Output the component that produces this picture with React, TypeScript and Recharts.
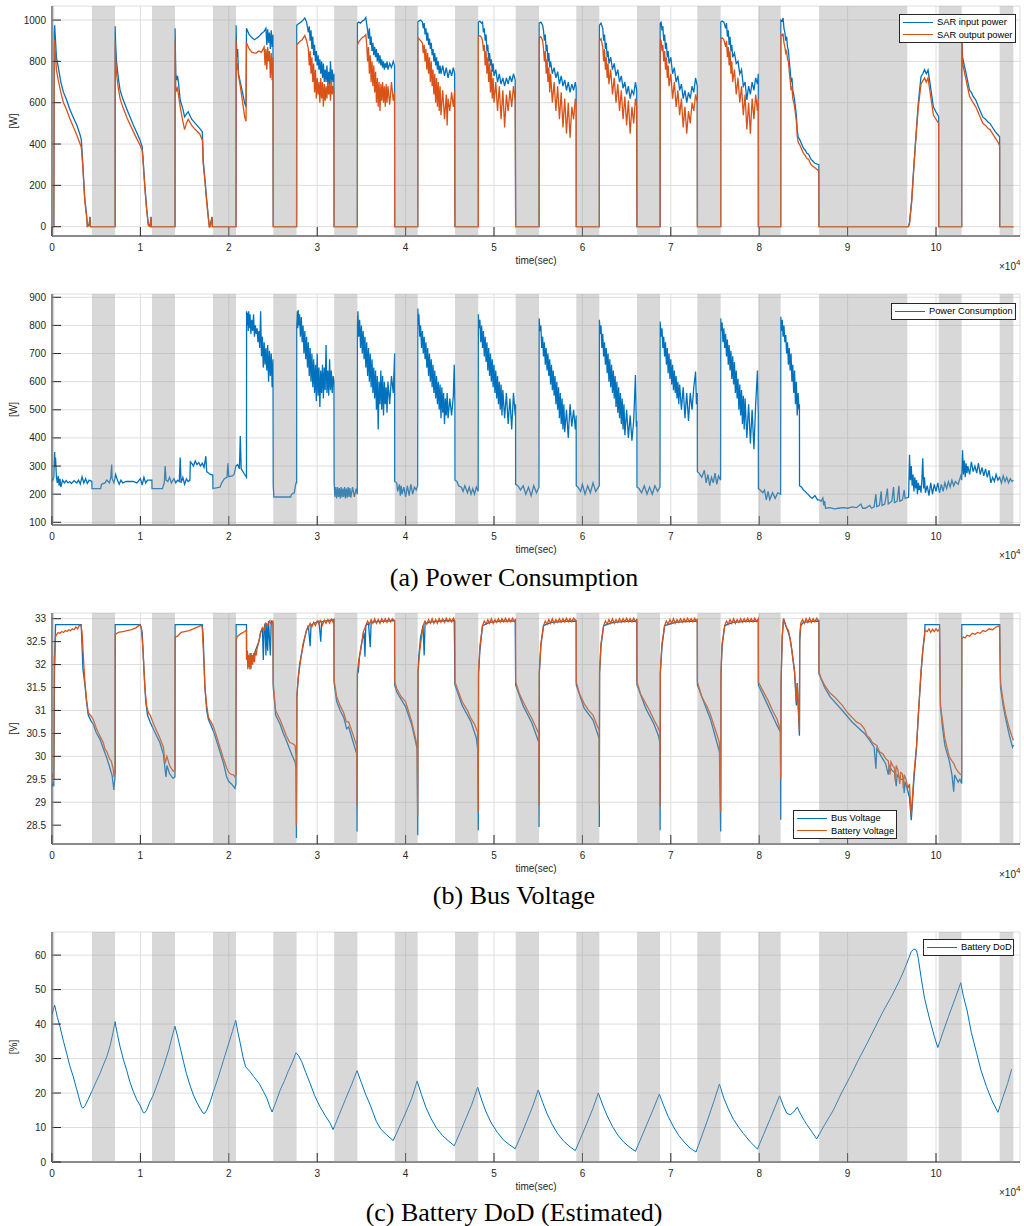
import React from 'react';
import { LineChart, Line, XAxis, YAxis, CartesianGrid, ReferenceArea, Label } from 'recharts';

type Pt = [number, number];

const BLUE = '#0072BD';
const ORANGE = '#D95319';
const SANS = '"Liberation Sans", Arial, sans-serif';

// eclipse windows (x in 1e4 s)
const eclipses: Pt[] = [
  [0, 0.025], [0.452, 0.713], [1.131, 1.391], [1.821, 2.081], [2.503, 2.767], [3.192, 3.454],
  [3.877, 4.137], [4.559, 4.822], [5.245, 5.509], [5.931, 6.191], [6.618, 6.878], [7.30, 7.564],
  [7.99, 8.243], [8.677, 9.675], [10.03, 10.29], [10.72, 10.875],
];

const xTicks = [0, 1, 2, 3, 4, 5, 6, 7, 8, 9, 10];

// (a) SAR power [W]
const sarIn: Pt[] = [
  [0, 0], [0.02, 0], [0.025, 940], [0.03, 975], [0.04, 900], [0.05, 820], [0.07, 775], [0.1, 700], [0.13, 650], [0.166, 613], [0.2, 570], [0.24, 530], [0.28, 492], [0.31, 455], [0.33, 425], [0.335, 400], [0.35, 290], [0.37, 140], [0.39, 60], [0.40, 5], [0.42, 10], [0.43, 48], [0.435, 0], [0.713, 0],
  [0.714, 970], [0.72, 880], [0.73, 800], [0.75, 720], [0.77, 661], [0.8, 620], [0.85, 565], [0.92, 492], [0.96, 455], [0.995, 420], [1.02, 387], [1.03, 330], [1.05, 200], [1.07, 90], [1.09, 10], [1.11, 5], [1.12, 48], [1.125, 0], [1.391, 0],
  [1.392, 960], [1.40, 740], [1.41, 709], [1.42, 730], [1.43, 700], [1.45, 613], [1.48, 570], [1.50, 532], [1.52, 545], [1.54, 556], [1.58, 520], [1.62, 500], [1.67, 476], [1.70, 460], [1.705, 410], [1.71, 322], [1.73, 230], [1.75, 129], [1.77, 40], [1.78, 0], [1.79, 5], [1.81, 48], [1.815, 0], [2.081, 0],
  [2.082, 975], [2.09, 820], [2.10, 860], [2.11, 740], [2.13, 700], [2.15, 660], [2.18, 597], [2.195, 580], [2.2, 960], [2.21, 950], [2.23, 930], [2.26, 915], [2.29, 905], [2.31, 911], [2.34, 920], [2.37, 935], [2.40, 945], [2.42, 960], [2.43, 880], [2.44, 955], [2.45, 890], [2.46, 940], [2.47, 860], [2.48, 950], [2.49, 870], [2.50, 930], [2.503, 0], [2.767, 0],
  [2.768, 975], [2.78, 980], [2.80, 985], [2.83, 995], [2.86, 1010], [2.88, 990], [2.90, 940], [2.91, 970], [2.92, 900], [2.93, 950], [2.94, 860], [2.95, 920], [2.96, 830], [2.97, 880], [2.98, 800], [2.99, 850], [3.00, 780], [3.01, 830], [3.02, 760], [3.03, 810], [3.04, 740], [3.05, 800], [3.06, 720], [3.07, 790], [3.08, 700], [3.09, 760], [3.10, 700], [3.11, 780], [3.12, 690], [3.13, 750], [3.14, 680], [3.15, 800], [3.16, 690], [3.17, 760], [3.18, 700], [3.19, 740], [3.192, 0], [3.454, 0],
  [3.455, 985], [3.47, 990], [3.49, 985], [3.51, 995], [3.53, 1000], [3.55, 1012], [3.56, 980], [3.57, 950], [3.58, 910], [3.59, 960], [3.60, 880], [3.61, 920], [3.62, 850], [3.63, 890], [3.64, 830], [3.65, 870], [3.66, 820], [3.67, 860], [3.68, 800], [3.69, 840], [3.70, 790], [3.71, 830], [3.72, 780], [3.73, 810], [3.74, 770], [3.75, 800], [3.76, 760], [3.77, 790], [3.78, 770], [3.79, 800], [3.80, 760], [3.82, 790], [3.84, 770], [3.86, 800], [3.875, 780], [3.877, 0], [4.137, 0],
  [4.138, 990], [4.15, 995], [4.17, 1000], [4.19, 990], [4.20, 960], [4.21, 985], [4.22, 930], [4.23, 960], [4.24, 900], [4.25, 940], [4.26, 880], [4.27, 910], [4.28, 860], [4.29, 890], [4.30, 830], [4.31, 860], [4.32, 800], [4.33, 840], [4.34, 780], [4.35, 820], [4.36, 760], [4.37, 800], [4.38, 740], [4.39, 780], [4.40, 740], [4.42, 780], [4.44, 730], [4.46, 770], [4.48, 720], [4.50, 760], [4.52, 730], [4.54, 770], [4.555, 740], [4.559, 0], [4.822, 0],
  [4.823, 990], [4.84, 995], [4.86, 985], [4.87, 990], [4.88, 940], [4.89, 960], [4.90, 900], [4.91, 930], [4.92, 850], [4.93, 880], [4.94, 800], [4.95, 840], [4.96, 780], [4.97, 810], [4.98, 750], [4.99, 790], [5.00, 730], [5.02, 760], [5.04, 700], [5.06, 740], [5.08, 690], [5.10, 720], [5.12, 680], [5.14, 720], [5.16, 690], [5.18, 730], [5.20, 700], [5.22, 740], [5.24, 710], [5.245, 0], [5.509, 0],
  [5.51, 985], [5.53, 990], [5.55, 975], [5.56, 950], [5.57, 900], [5.58, 930], [5.59, 850], [5.60, 880], [5.61, 800], [5.62, 840], [5.63, 770], [5.64, 800], [5.66, 740], [5.68, 770], [5.70, 720], [5.72, 750], [5.74, 690], [5.76, 730], [5.78, 680], [5.80, 710], [5.82, 660], [5.84, 700], [5.86, 650], [5.88, 690], [5.90, 660], [5.92, 700], [5.93, 670], [5.931, 0], [6.191, 0],
  [6.192, 975], [6.21, 985], [6.23, 960], [6.24, 900], [6.25, 930], [6.26, 860], [6.27, 890], [6.28, 820], [6.29, 850], [6.30, 790], [6.32, 820], [6.34, 760], [6.36, 790], [6.38, 730], [6.40, 760], [6.42, 700], [6.44, 730], [6.46, 670], [6.48, 700], [6.50, 640], [6.52, 680], [6.54, 620], [6.56, 660], [6.58, 640], [6.60, 700], [6.615, 660], [6.618, 0], [6.878, 0],
  [6.879, 985], [6.89, 990], [6.90, 950], [6.91, 970], [6.92, 900], [6.93, 930], [6.94, 860], [6.95, 890], [6.96, 820], [6.97, 850], [6.98, 790], [7.00, 820], [7.02, 740], [7.04, 770], [7.06, 700], [7.08, 730], [7.10, 660], [7.12, 690], [7.14, 620], [7.16, 660], [7.18, 600], [7.20, 650], [7.22, 620], [7.24, 680], [7.26, 650], [7.28, 720], [7.30, 680], [7.301, 0], [7.564, 0],
  [7.565, 990], [7.58, 995], [7.60, 990], [7.62, 960], [7.63, 985], [7.64, 920], [7.65, 950], [7.66, 880], [7.67, 919], [7.68, 850], [7.69, 880], [7.70, 820], [7.72, 840], [7.74, 790], [7.76, 800], [7.78, 740], [7.80, 760], [7.82, 680], [7.84, 700], [7.86, 613], [7.88, 680], [7.90, 640], [7.92, 700], [7.94, 660], [7.96, 720], [7.98, 690], [7.99, 740], [7.991, 0], [8.243, 0],
  [8.244, 1000], [8.26, 995], [8.27, 1010], [8.28, 960], [8.29, 940], [8.30, 900], [8.31, 920], [8.32, 870], [8.33, 855], [8.34, 800], [8.35, 760], [8.36, 700], [8.37, 720], [8.38, 660], [8.39, 640], [8.40, 613], [8.42, 540], [8.43, 470], [8.44, 435], [8.46, 420], [8.48, 400], [8.50, 380], [8.52, 370], [8.54, 355], [8.56, 350], [8.58, 330], [8.60, 320], [8.63, 307], [8.675, 300], [8.677, 0], [9.687, 0],
  [9.70, 20], [9.725, 130], [9.75, 300], [9.78, 484], [9.80, 600], [9.83, 726], [9.85, 740], [9.87, 760], [9.89, 740], [9.91, 758], [9.93, 700], [9.95, 640], [9.97, 580], [10.00, 555], [10.03, 532], [10.031, 0], [10.29, 0],
  [10.291, 930], [10.30, 820], [10.32, 780], [10.34, 742], [10.36, 700], [10.38, 660], [10.40, 650], [10.42, 630], [10.45, 613], [10.48, 580], [10.50, 560], [10.53, 530], [10.56, 520], [10.59, 505], [10.61, 500], [10.64, 480], [10.67, 460], [10.70, 445], [10.72, 435], [10.721, 0], [10.875, 0],
];

const sarOut: Pt[] = [
  [0, 0], [0.02, 0], [0.025, 870], [0.03, 903], [0.04, 820], [0.05, 760], [0.07, 710], [0.1, 650], [0.13, 600], [0.166, 565], [0.2, 525], [0.24, 485], [0.28, 444], [0.31, 410], [0.33, 385], [0.335, 370], [0.35, 280], [0.37, 130], [0.39, 55], [0.40, 0], [0.42, 5], [0.43, 45], [0.435, 0], [0.713, 0],
  [0.714, 900], [0.72, 810], [0.73, 740], [0.75, 670], [0.77, 620], [0.8, 580], [0.85, 525], [0.92, 460], [0.96, 425], [0.995, 395], [1.02, 370], [1.03, 315], [1.05, 190], [1.07, 85], [1.09, 5], [1.11, 0], [1.12, 45], [1.125, 0], [1.391, 0],
  [1.392, 900], [1.40, 680], [1.41, 660], [1.42, 670], [1.43, 640], [1.45, 580], [1.48, 510], [1.50, 470], [1.52, 500], [1.54, 520], [1.58, 490], [1.62, 470], [1.67, 450], [1.70, 420], [1.705, 380], [1.71, 310], [1.73, 220], [1.75, 120], [1.77, 35], [1.78, 0], [1.79, 0], [1.81, 45], [1.815, 0], [2.081, 0],
  [2.082, 900], [2.09, 760], [2.10, 790], [2.11, 730], [2.13, 680], [2.15, 620], [2.18, 530], [2.195, 510], [2.2, 890], [2.21, 880], [2.23, 860], [2.26, 845], [2.29, 840], [2.31, 840], [2.34, 850], [2.37, 845], [2.40, 870], [2.41, 780], [2.42, 860], [2.43, 760], [2.44, 870], [2.45, 800], [2.46, 850], [2.47, 720], [2.48, 840], [2.49, 709], [2.50, 820], [2.503, 0], [2.767, 0],
  [2.768, 880], [2.78, 885], [2.80, 895], [2.83, 905], [2.86, 925], [2.88, 900], [2.90, 860], [2.91, 780], [2.92, 850], [2.93, 740], [2.94, 820], [2.95, 700], [2.96, 790], [2.97, 650], [2.98, 760], [2.99, 620], [3.00, 720], [3.01, 640], [3.02, 700], [3.03, 600], [3.04, 720], [3.05, 620], [3.06, 700], [3.07, 580], [3.08, 690], [3.09, 610], [3.10, 680], [3.11, 620], [3.12, 700], [3.13, 640], [3.14, 690], [3.15, 610], [3.16, 710], [3.17, 640], [3.18, 680], [3.19, 650], [3.192, 0], [3.454, 0],
  [3.455, 880], [3.47, 895], [3.49, 905], [3.51, 915], [3.53, 920], [3.55, 930], [3.56, 880], [3.57, 800], [3.58, 870], [3.59, 740], [3.60, 830], [3.61, 700], [3.62, 800], [3.63, 680], [3.64, 780], [3.65, 650], [3.66, 750], [3.67, 600], [3.68, 720], [3.69, 580], [3.70, 700], [3.71, 560], [3.72, 690], [3.73, 610], [3.74, 700], [3.75, 600], [3.76, 680], [3.77, 580], [3.78, 690], [3.79, 600], [3.80, 680], [3.82, 590], [3.84, 700], [3.86, 610], [3.875, 650], [3.877, 0], [4.137, 0],
  [4.138, 915], [4.15, 910], [4.17, 900], [4.19, 890], [4.20, 840], [4.21, 880], [4.22, 800], [4.23, 860], [4.24, 760], [4.25, 840], [4.26, 740], [4.27, 820], [4.28, 700], [4.29, 800], [4.30, 680], [4.31, 760], [4.32, 640], [4.33, 740], [4.34, 600], [4.35, 720], [4.36, 580], [4.37, 700], [4.38, 560], [4.39, 680], [4.40, 540], [4.42, 660], [4.44, 520], [4.46, 640], [4.47, 490], [4.48, 620], [4.50, 560], [4.52, 650], [4.54, 580], [4.555, 660], [4.559, 0], [4.822, 0],
  [4.823, 920], [4.84, 925], [4.86, 915], [4.87, 900], [4.88, 850], [4.89, 880], [4.90, 780], [4.91, 850], [4.92, 740], [4.93, 820], [4.94, 700], [4.95, 790], [4.96, 650], [4.97, 760], [4.98, 620], [4.99, 720], [5.00, 600], [5.02, 700], [5.04, 560], [5.06, 680], [5.08, 520], [5.10, 660], [5.12, 480], [5.14, 640], [5.16, 560], [5.18, 660], [5.20, 580], [5.22, 680], [5.24, 610], [5.245, 0], [5.509, 0],
  [5.51, 915], [5.53, 920], [5.55, 900], [5.56, 860], [5.57, 800], [5.58, 850], [5.59, 740], [5.60, 810], [5.61, 700], [5.62, 770], [5.63, 650], [5.64, 740], [5.66, 600], [5.68, 700], [5.70, 560], [5.72, 680], [5.74, 520], [5.76, 650], [5.78, 480], [5.80, 620], [5.82, 450], [5.84, 600], [5.86, 430], [5.88, 580], [5.90, 520], [5.92, 620], [5.93, 600], [5.931, 0], [6.191, 0],
  [6.192, 900], [6.21, 910], [6.23, 870], [6.24, 800], [6.25, 860], [6.26, 760], [6.27, 820], [6.28, 720], [6.29, 790], [6.30, 690], [6.32, 760], [6.34, 640], [6.36, 720], [6.38, 600], [6.40, 690], [6.42, 560], [6.44, 660], [6.46, 520], [6.48, 630], [6.50, 490], [6.52, 610], [6.54, 450], [6.56, 580], [6.58, 500], [6.60, 620], [6.615, 580], [6.618, 0], [6.878, 0],
  [6.879, 910], [6.89, 900], [6.90, 850], [6.91, 880], [6.92, 800], [6.93, 850], [6.94, 760], [6.95, 820], [6.96, 720], [6.97, 780], [6.98, 680], [7.00, 740], [7.02, 620], [7.04, 700], [7.06, 580], [7.08, 660], [7.10, 540], [7.12, 620], [7.14, 480], [7.16, 580], [7.18, 450], [7.20, 560], [7.22, 500], [7.24, 600], [7.26, 560], [7.28, 640], [7.30, 600], [7.301, 0], [7.564, 0],
  [7.565, 910], [7.58, 915], [7.60, 905], [7.62, 870], [7.63, 900], [7.64, 820], [7.65, 870], [7.66, 780], [7.67, 850], [7.68, 740], [7.69, 800], [7.70, 700], [7.72, 760], [7.74, 640], [7.76, 720], [7.78, 600], [7.80, 680], [7.82, 540], [7.84, 640], [7.86, 470], [7.88, 600], [7.90, 450], [7.92, 620], [7.94, 520], [7.96, 640], [7.98, 560], [7.99, 620], [7.991, 0], [8.243, 0],
  [8.244, 930], [8.26, 925], [8.27, 935], [8.28, 890], [8.29, 870], [8.30, 840], [8.31, 850], [8.32, 810], [8.33, 800], [8.34, 750], [8.35, 710], [8.36, 660], [8.37, 680], [8.38, 620], [8.39, 600], [8.40, 580], [8.42, 510], [8.43, 440], [8.44, 410], [8.46, 395], [8.48, 375], [8.50, 355], [8.52, 345], [8.54, 330], [8.56, 325], [8.58, 305], [8.60, 295], [8.63, 285], [8.675, 270], [8.677, 0], [9.687, 0],
  [9.70, 15], [9.725, 120], [9.75, 290], [9.78, 470], [9.80, 580], [9.83, 690], [9.85, 705], [9.87, 720], [9.89, 700], [9.91, 720], [9.93, 660], [9.95, 600], [9.97, 540], [10.00, 520], [10.03, 500], [10.031, 0], [10.29, 0],
  [10.291, 910], [10.30, 790], [10.32, 750], [10.34, 710], [10.36, 670], [10.38, 630], [10.40, 615], [10.42, 600], [10.45, 580], [10.48, 550], [10.50, 530], [10.53, 500], [10.56, 490], [10.59, 475], [10.61, 470], [10.64, 450], [10.67, 430], [10.70, 410], [10.72, 390], [10.721, 0], [10.875, 0],
];

// (a) power consumption [W]
const consumption: Pt[] = [
  [0, 255], [0.01, 250], [0.02, 260], [0.03, 350], [0.035, 300], [0.04, 330], [0.05, 260], [0.06, 240], [0.07, 265], [0.08, 230], [0.09, 255], [0.10, 225], [0.12, 250], [0.14, 240], [0.16, 248], [0.18, 240], [0.20, 245], [0.22, 238], [0.25, 248], [0.28, 240], [0.30, 250], [0.32, 236], [0.34, 262], [0.36, 240], [0.38, 255], [0.40, 238], [0.42, 250], [0.452, 245],
  [0.453, 220], [0.55, 220], [0.56, 235], [0.60, 240], [0.62, 250], [0.65, 240], [0.665, 260], [0.675, 305], [0.68, 255], [0.70, 240], [0.72, 270], [0.74, 250], [0.76, 235], [0.78, 250], [0.80, 240], [0.84, 245], [0.88, 245], [0.92, 245], [0.96, 240], [1.0, 255], [1.02, 232], [1.04, 260], [1.06, 240], [1.08, 250], [1.11, 250], [1.131, 250],
  [1.132, 220], [1.25, 220], [1.26, 232], [1.27, 240], [1.28, 300], [1.29, 250], [1.31, 245], [1.33, 260], [1.35, 240], [1.38, 255], [1.40, 240], [1.42, 250], [1.44, 245], [1.45, 330], [1.46, 240], [1.48, 260], [1.50, 235], [1.52, 255], [1.54, 245], [1.56, 250], [1.565, 315], [1.58, 310], [1.60, 300], [1.62, 318], [1.64, 305], [1.66, 312], [1.68, 300], [1.70, 310], [1.72, 295], [1.74, 335], [1.75, 280], [1.77, 275], [1.79, 270], [1.82, 268],
  [1.821, 220], [1.90, 225], [1.92, 240], [1.95, 255], [1.98, 260], [1.99, 310], [2.00, 262], [2.04, 265], [2.06, 270], [2.08, 300], [2.10, 305], [2.12, 290], [2.13, 407], [2.14, 290], [2.16, 280], [2.18, 270], [2.2, 260],
  [2.201, 850], [2.21, 800], [2.215, 845], [2.22, 780], [2.225, 850], [2.23, 790], [2.24, 840], [2.25, 770], [2.26, 820], [2.27, 780], [2.28, 840], [2.29, 760], [2.30, 800], [2.31, 770], [2.32, 790], [2.33, 740], [2.34, 780], [2.35, 720], [2.36, 850], [2.37, 690], [2.38, 760], [2.39, 650], [2.40, 740], [2.41, 660], [2.42, 720], [2.43, 640], [2.44, 730], [2.45, 600], [2.46, 710], [2.47, 620], [2.48, 700], [2.49, 580], [2.50, 680],
  [2.503, 230], [2.51, 190], [2.70, 190], [2.71, 200], [2.74, 205], [2.76, 240], [2.767, 240],
  [2.768, 800], [2.775, 850], [2.78, 790], [2.785, 855], [2.79, 800], [2.80, 840], [2.81, 760], [2.82, 830], [2.83, 740], [2.84, 800], [2.85, 700], [2.86, 780], [2.87, 680], [2.88, 760], [2.89, 650], [2.90, 740], [2.91, 620], [2.92, 720], [2.93, 600], [2.94, 700], [2.95, 580], [2.96, 680], [2.97, 560], [2.98, 660], [2.99, 530], [3.00, 700], [3.01, 550], [3.02, 650], [3.03, 510], [3.04, 640], [3.05, 560], [3.06, 660], [3.07, 540], [3.08, 650], [3.09, 570], [3.10, 730], [3.11, 560], [3.12, 640], [3.13, 550], [3.14, 680], [3.15, 570], [3.16, 640], [3.17, 560], [3.18, 620], [3.19, 600],
  [3.192, 240], [3.20, 190], [3.21, 225], [3.22, 185], [3.23, 225], [3.24, 190], [3.25, 222], [3.26, 185], [3.27, 225], [3.28, 188], [3.29, 220], [3.30, 190], [3.31, 225], [3.32, 185], [3.33, 220], [3.34, 188], [3.35, 225], [3.36, 190], [3.37, 222], [3.38, 188], [3.40, 225], [3.42, 190], [3.44, 220], [3.453, 200],
  [3.455, 800], [3.46, 850], [3.47, 760], [3.48, 820], [3.49, 720], [3.50, 800], [3.51, 700], [3.52, 780], [3.53, 680], [3.54, 760], [3.55, 650], [3.56, 740], [3.57, 620], [3.58, 720], [3.59, 600], [3.60, 700], [3.61, 580], [3.62, 680], [3.63, 560], [3.64, 650], [3.65, 540], [3.66, 640], [3.67, 500], [3.68, 620], [3.69, 430], [3.70, 600], [3.71, 520], [3.72, 640], [3.73, 500], [3.74, 620], [3.75, 480], [3.76, 600], [3.77, 520], [3.78, 580], [3.79, 490], [3.80, 600], [3.82, 520], [3.84, 620], [3.86, 560], [3.876, 700],
  [3.877, 245], [3.90, 240], [3.91, 210], [3.93, 235], [3.94, 195], [3.95, 230], [3.96, 200], [3.98, 225], [4.00, 190], [4.02, 230], [4.04, 195], [4.06, 235], [4.08, 200], [4.10, 225], [4.12, 215], [4.136, 230],
  [4.138, 860], [4.145, 800], [4.15, 840], [4.16, 760], [4.17, 800], [4.18, 720], [4.19, 780], [4.20, 700], [4.21, 760], [4.22, 680], [4.23, 740], [4.24, 650], [4.25, 720], [4.26, 620], [4.27, 700], [4.28, 600], [4.29, 680], [4.30, 580], [4.31, 660], [4.32, 560], [4.33, 640], [4.34, 540], [4.35, 620], [4.36, 520], [4.37, 600], [4.38, 500], [4.39, 590], [4.40, 470], [4.41, 580], [4.42, 490], [4.43, 560], [4.44, 450], [4.45, 540], [4.46, 480], [4.47, 560], [4.48, 470], [4.50, 540], [4.52, 480], [4.54, 550], [4.55, 660], [4.558, 520],
  [4.559, 250], [4.58, 245], [4.60, 230], [4.63, 225], [4.65, 210], [4.67, 230], [4.70, 205], [4.72, 225], [4.74, 200], [4.76, 220], [4.78, 200], [4.80, 225], [4.82, 210],
  [4.823, 840], [4.83, 790], [4.84, 820], [4.85, 740], [4.86, 800], [4.87, 720], [4.88, 780], [4.89, 690], [4.90, 760], [4.91, 670], [4.92, 740], [4.93, 640], [4.94, 720], [4.95, 620], [4.96, 700], [4.97, 600], [4.98, 680], [4.99, 580], [5.00, 660], [5.01, 560], [5.02, 640], [5.03, 540], [5.04, 620], [5.05, 520], [5.06, 600], [5.07, 500], [5.08, 590], [5.09, 480], [5.10, 570], [5.12, 470], [5.14, 560], [5.16, 450], [5.18, 540], [5.20, 430], [5.22, 560], [5.24, 480], [5.244, 520],
  [5.245, 235], [5.27, 230], [5.30, 215], [5.33, 230], [5.36, 200], [5.39, 225], [5.42, 195], [5.45, 230], [5.48, 205], [5.508, 225],
  [5.51, 825], [5.52, 780], [5.53, 800], [5.54, 720], [5.55, 760], [5.56, 690], [5.57, 740], [5.58, 660], [5.59, 720], [5.60, 640], [5.61, 700], [5.62, 620], [5.63, 680], [5.64, 590], [5.65, 660], [5.66, 570], [5.67, 640], [5.68, 550], [5.69, 620], [5.70, 520], [5.71, 600], [5.72, 500], [5.73, 580], [5.74, 470], [5.75, 560], [5.76, 450], [5.77, 540], [5.78, 430], [5.79, 520], [5.80, 420], [5.82, 500], [5.84, 400], [5.86, 520], [5.88, 440], [5.90, 500], [5.92, 430], [5.93, 480],
  [5.931, 230], [5.95, 225], [5.98, 210], [6.00, 235], [6.03, 200], [6.06, 230], [6.09, 205], [6.12, 240], [6.15, 210], [6.19, 230],
  [6.192, 820], [6.20, 770], [6.21, 800], [6.22, 720], [6.23, 770], [6.24, 690], [6.25, 740], [6.26, 660], [6.27, 720], [6.28, 630], [6.29, 700], [6.30, 600], [6.31, 680], [6.32, 580], [6.33, 660], [6.34, 560], [6.35, 640], [6.36, 540], [6.37, 620], [6.38, 510], [6.39, 600], [6.40, 490], [6.41, 580], [6.42, 470], [6.43, 560], [6.44, 450], [6.45, 540], [6.46, 430], [6.47, 520], [6.48, 410], [6.50, 500], [6.52, 400], [6.54, 480], [6.56, 390], [6.58, 460], [6.60, 624], [6.61, 440], [6.617, 460],
  [6.618, 225], [6.64, 220], [6.67, 205], [6.70, 230], [6.73, 200], [6.76, 225], [6.79, 200], [6.82, 230], [6.85, 210], [6.877, 225],
  [6.879, 814], [6.89, 760], [6.90, 790], [6.91, 720], [6.92, 760], [6.93, 690], [6.94, 740], [6.95, 660], [6.96, 720], [6.97, 630], [6.98, 700], [6.99, 610], [7.00, 680], [7.01, 590], [7.02, 660], [7.03, 570], [7.04, 640], [7.05, 560], [7.06, 620], [7.07, 540], [7.08, 600], [7.09, 520], [7.10, 590], [7.12, 500], [7.14, 580], [7.16, 470], [7.18, 560], [7.20, 460], [7.22, 560], [7.24, 500], [7.26, 580], [7.28, 636], [7.29, 520], [7.30, 560],
  [7.301, 280], [7.32, 275], [7.35, 260], [7.38, 285], [7.40, 240], [7.42, 270], [7.44, 230], [7.46, 260], [7.48, 240], [7.50, 275], [7.52, 235], [7.54, 265], [7.563, 250],
  [7.565, 825], [7.57, 780], [7.58, 810], [7.59, 740], [7.60, 790], [7.61, 720], [7.62, 770], [7.63, 690], [7.64, 750], [7.65, 660], [7.66, 730], [7.67, 640], [7.68, 710], [7.69, 610], [7.70, 690], [7.71, 590], [7.72, 670], [7.73, 560], [7.74, 640], [7.75, 540], [7.76, 610], [7.77, 500], [7.78, 590], [7.79, 480], [7.80, 570], [7.81, 450], [7.82, 550], [7.83, 430], [7.84, 540], [7.86, 400], [7.88, 520], [7.90, 380], [7.92, 500], [7.94, 360], [7.96, 520], [7.98, 640], [7.99, 480],
  [7.991, 220], [8.01, 215], [8.04, 205], [8.06, 215], [8.08, 180], [8.10, 210], [8.12, 180], [8.15, 205], [8.18, 185], [8.21, 205], [8.242, 200],
  [8.244, 831], [8.25, 780], [8.26, 820], [8.27, 760], [8.28, 800], [8.29, 740], [8.30, 766], [8.31, 700], [8.32, 740], [8.33, 660], [8.34, 720], [8.35, 640], [8.36, 700], [8.37, 600], [8.38, 660], [8.39, 560], [8.40, 640], [8.41, 520], [8.42, 600], [8.43, 480], [8.44, 560], [8.45, 500], [8.455, 520],
  [8.456, 230], [8.48, 225], [8.50, 215], [8.52, 210], [8.55, 200], [8.58, 190], [8.60, 185], [8.63, 195], [8.66, 180], [8.68, 180],
  [8.70, 175], [8.72, 186], [8.73, 160], [8.74, 175], [8.75, 150], [8.80, 152], [8.85, 148], [8.90, 150], [8.95, 152], [9.00, 150], [9.05, 155], [9.10, 152], [9.15, 165], [9.17, 150], [9.20, 150], [9.25, 160], [9.27, 150], [9.30, 155], [9.32, 200], [9.33, 155], [9.36, 160], [9.38, 210], [9.39, 160], [9.42, 165], [9.45, 220], [9.46, 165], [9.50, 175], [9.52, 225], [9.53, 170], [9.56, 175], [9.58, 230], [9.59, 175], [9.62, 180], [9.64, 215], [9.65, 185], [9.69, 190],
  [9.70, 340], [9.71, 250], [9.72, 300], [9.73, 230], [9.74, 270], [9.75, 210], [9.76, 260], [9.77, 220], [9.78, 250], [9.79, 200], [9.80, 240], [9.81, 215], [9.82, 230], [9.83, 205], [9.84, 250], [9.85, 328], [9.86, 220], [9.87, 260], [9.88, 205], [9.90, 230], [9.92, 195], [9.94, 240], [9.96, 200], [9.98, 235], [10.00, 210], [10.02, 240], [10.04, 205], [10.06, 235], [10.08, 210], [10.10, 240], [10.12, 220], [10.14, 245], [10.16, 225], [10.18, 250], [10.20, 230], [10.22, 245], [10.25, 235], [10.28, 265], [10.29, 250],
  [10.30, 356], [10.31, 270], [10.32, 320], [10.33, 260], [10.34, 310], [10.35, 275], [10.36, 300], [10.38, 270], [10.40, 315], [10.42, 280], [10.44, 300], [10.46, 275], [10.48, 310], [10.50, 270], [10.52, 295], [10.54, 265], [10.56, 290], [10.58, 260], [10.60, 285], [10.62, 240], [10.64, 260], [10.66, 245], [10.68, 270], [10.70, 250], [10.72, 260], [10.74, 240], [10.76, 265], [10.78, 245], [10.80, 260], [10.82, 240], [10.84, 255], [10.86, 245], [10.875, 250],
];

// (b) voltages [V]
const busV: Pt[] = [
  [0, 29.35], [0.01, 29.4], [0.02, 29.35], [0.03, 32.2], [0.04, 32.87], [0.33, 32.87], [0.336, 32.6], [0.35, 31.9], [0.373, 31.55], [0.39, 31.2], [0.41, 30.9], [0.44, 30.78], [0.467, 30.7], [0.5, 30.52], [0.543, 30.37], [0.58, 30.17], [0.619, 29.97], [0.65, 29.78], [0.68, 29.58], [0.70, 29.27], [0.71, 29.5], [0.713, 29.6],
  [0.714, 32.87], [1.0, 32.87], [1.02, 32.7], [1.04, 31.9], [1.06, 31.2], [1.08, 30.9], [1.11, 30.75], [1.15, 30.58], [1.22, 30.3], [1.26, 30.05], [1.28, 29.7], [1.29, 29.55], [1.30, 29.8], [1.33, 29.62], [1.37, 29.52], [1.39, 29.55],
  [1.392, 32.87], [1.70, 32.87], [1.71, 32.6], [1.73, 31.5], [1.75, 31.0], [1.77, 30.8], [1.825, 30.55], [1.86, 30.35], [1.9, 30.1], [1.94, 29.85], [1.976, 29.55], [2.00, 29.45], [2.03, 29.4], [2.05, 29.35], [2.07, 29.3], [2.08, 29.4],
  [2.082, 32.87], [2.2, 32.87], [2.201, 32.2], [2.21, 32.3], [2.22, 31.95], [2.23, 32.2], [2.24, 31.9], [2.25, 32.25], [2.26, 32.0], [2.27, 32.2], [2.28, 32.1], [2.30, 32.3], [2.32, 32.4], [2.34, 32.5], [2.36, 32.7], [2.38, 32.8], [2.39, 32.1], [2.40, 32.8], [2.41, 32.9], [2.42, 32.2], [2.43, 32.9], [2.44, 32.3], [2.45, 32.95], [2.47, 32.2], [2.48, 32.95], [2.50, 32.9],
  [2.503, 31.5], [2.53, 30.9], [2.58, 30.7], [2.617, 30.5], [2.65, 30.35], [2.69, 30.15], [2.72, 30.0], [2.75, 29.88], [2.76, 29.75], [2.765, 28.22], [2.77, 31.3], [2.785, 31.7], [2.80, 32.0], [2.82, 32.2], [2.84, 32.4], [2.86, 32.6], [2.88, 32.75], [2.90, 32.85], [2.92, 32.4], [2.93, 32.85], [2.96, 32.9], [2.99, 32.92], [3.02, 32.95], [3.04, 32.5], [3.05, 32.93], [3.10, 32.95], [3.15, 32.97], [3.19, 32.98],
  [3.192, 31.6], [3.22, 31.2], [3.26, 31.0], [3.30, 30.85], [3.333, 30.6], [3.356, 30.64], [3.40, 30.35], [3.446, 30.06], [3.45, 28.36], [3.455, 31.8], [3.465, 31.84], [3.48, 32.2], [3.505, 32.49], [3.53, 32.7], [3.54, 32.17], [3.55, 32.85], [3.58, 32.9], [3.60, 32.38], [3.61, 32.92], [3.70, 32.94], [3.80, 32.95], [3.875, 32.96],
  [3.877, 31.55], [3.90, 31.4], [4.0, 31.08], [4.07, 30.68], [4.13, 30.17], [4.137, 28.28], [4.14, 31.84], [4.15, 32.2], [4.17, 32.6], [4.197, 32.85], [4.21, 32.2], [4.22, 32.9], [4.30, 32.93], [4.40, 32.95], [4.55, 32.96],
  [4.559, 31.55], [4.64, 31.11], [4.74, 30.75], [4.80, 30.4], [4.815, 30.17], [4.822, 28.39], [4.825, 31.8], [4.84, 32.3], [4.87, 32.85], [4.95, 32.92], [5.05, 32.94], [5.24, 32.95],
  [5.245, 31.55], [5.33, 31.1], [5.43, 30.72], [5.48, 30.45], [5.505, 30.31], [5.509, 28.46], [5.512, 31.8], [5.53, 32.4], [5.56, 32.85], [5.65, 32.92], [5.80, 32.94], [5.93, 32.95],
  [5.931, 31.55], [6.02, 31.05], [6.12, 30.79], [6.17, 30.5], [6.19, 30.39], [6.191, 28.46], [6.194, 31.8], [6.21, 32.4], [6.24, 32.85], [6.35, 32.92], [6.50, 32.94], [6.617, 32.95],
  [6.618, 31.55], [6.716, 31.05], [6.81, 30.7], [6.86, 30.45], [6.875, 30.31], [6.878, 28.39], [6.881, 31.8], [6.90, 32.4], [6.93, 32.85], [7.05, 32.92], [7.2, 32.94], [7.30, 32.95],
  [7.301, 31.55], [7.41, 31.0], [7.45, 30.8], [7.50, 30.45], [7.55, 30.1], [7.564, 28.36], [7.567, 31.8], [7.58, 32.4], [7.61, 32.85], [7.70, 32.92], [7.85, 32.94], [7.99, 32.95],
  [7.991, 31.55], [8.1, 31.1], [8.2, 30.68], [8.24, 30.53], [8.243, 28.62], [8.246, 31.5], [8.26, 32.6], [8.275, 33.0], [8.29, 32.9], [8.33, 32.7], [8.35, 32.56], [8.37, 32.3], [8.40, 31.84], [8.42, 31.11], [8.43, 31.6], [8.445, 30.9], [8.455, 30.45], [8.458, 32.5], [8.47, 32.85], [8.50, 32.92], [8.60, 32.94], [8.676, 32.95],
  [8.677, 31.8], [8.74, 31.5], [8.80, 31.3], [8.94, 31.0], [9.05, 30.75], [9.19, 30.5], [9.25, 30.35], [9.30, 30.2], [9.32, 29.73], [9.33, 30.17], [9.38, 30.0], [9.43, 29.84], [9.46, 29.6], [9.47, 29.8], [9.50, 29.7], [9.53, 29.65], [9.55, 29.35], [9.56, 29.6], [9.60, 29.5], [9.63, 29.5], [9.64, 29.2], [9.65, 29.45], [9.68, 29.25], [9.70, 29.1], [9.72, 28.61], [9.73, 28.9], [9.75, 29.5], [9.78, 30.2], [9.80, 30.9], [9.83, 31.8], [9.85, 32.3], [9.87, 32.64], [9.875, 32.87], [10.04, 32.87],
  [10.05, 31.1], [10.075, 30.6], [10.1, 30.24], [10.15, 29.9], [10.18, 29.6], [10.2, 29.23], [10.21, 29.6], [10.25, 29.44], [10.27, 29.5], [10.29, 29.41], [10.291, 32.87], [10.72, 32.87],
  [10.73, 31.5], [10.76, 31.1], [10.79, 30.8], [10.83, 30.45], [10.865, 30.2], [10.875, 30.25],
];

const batV: Pt[] = [
  [0, 29.55], [0.01, 29.6], [0.02, 29.5], [0.025, 32.2], [0.03, 32.0], [0.04, 32.6], [0.05, 32.65], [0.07, 32.7], [0.09, 32.68], [0.11, 32.72], [0.13, 32.7], [0.15, 32.74], [0.17, 32.72], [0.19, 32.76], [0.21, 32.74], [0.23, 32.78], [0.25, 32.76], [0.27, 32.82], [0.29, 32.78], [0.31, 32.86], [0.33, 32.84], [0.34, 32.69], [0.36, 32.0], [0.373, 31.6], [0.39, 31.25], [0.41, 30.95], [0.44, 30.88], [0.467, 30.8], [0.50, 30.62], [0.543, 30.44], [0.58, 30.3], [0.60, 30.15], [0.619, 30.11], [0.65, 29.95], [0.67, 29.9], [0.694, 29.71], [0.70, 29.55], [0.71, 29.65], [0.713, 29.7],
  [0.714, 32.65], [0.75, 32.7], [0.80, 32.72], [0.85, 32.74], [0.90, 32.76], [0.95, 32.8], [0.995, 32.87], [1.01, 32.8], [1.03, 32.3], [1.05, 31.5], [1.07, 31.1], [1.09, 30.95], [1.11, 30.9], [1.15, 30.7], [1.22, 30.4], [1.26, 30.2], [1.28, 29.85], [1.30, 30.0], [1.33, 29.8], [1.37, 29.68], [1.39, 29.7],
  [1.392, 32.6], [1.42, 32.62], [1.46, 32.7], [1.50, 32.72], [1.55, 32.74], [1.60, 32.78], [1.65, 32.82], [1.69, 32.86], [1.70, 32.8], [1.72, 32.0], [1.73, 31.5], [1.75, 31.1], [1.77, 30.85], [1.80, 30.75], [1.825, 30.65], [1.86, 30.45], [1.90, 30.2], [1.94, 29.95], [1.976, 29.75], [2.00, 29.65], [2.03, 29.6], [2.05, 29.6], [2.07, 29.55], [2.08, 29.6],
  [2.082, 32.55], [2.10, 32.62], [2.14, 32.68], [2.18, 32.72], [2.2, 32.75], [2.201, 32.1], [2.21, 32.3], [2.215, 31.9], [2.22, 32.2], [2.23, 31.95], [2.24, 32.25], [2.25, 31.9], [2.26, 32.2], [2.27, 32.0], [2.28, 32.25], [2.29, 32.05], [2.30, 32.3], [2.31, 32.2], [2.32, 32.35], [2.34, 32.5], [2.36, 32.7], [2.38, 32.8], [2.40, 32.75], [2.42, 32.9], [2.44, 32.85], [2.46, 32.95], [2.48, 32.88], [2.50, 32.96],
  [2.503, 31.6], [2.53, 31.0], [2.58, 30.8], [2.617, 30.62], [2.65, 30.45], [2.69, 30.3], [2.72, 30.28], [2.75, 30.24], [2.76, 30.0], [2.765, 28.5], [2.77, 31.33], [2.785, 31.7], [2.805, 32.0], [2.82, 32.2], [2.84, 32.45], [2.86, 32.6], [2.88, 32.76], [2.90, 32.8], [2.92, 32.9], [2.94, 32.82], [2.96, 32.92], [2.98, 32.85], [3.00, 32.95], [3.02, 32.88], [3.04, 32.96], [3.06, 32.86], [3.08, 32.97], [3.10, 32.9], [3.12, 32.98], [3.14, 32.9], [3.16, 32.99], [3.18, 32.92], [3.19, 33.0],
  [3.192, 31.65], [3.22, 31.3], [3.26, 31.1], [3.30, 30.95], [3.33, 30.75], [3.356, 30.75], [3.40, 30.5], [3.446, 30.24], [3.45, 28.94], [3.455, 31.84], [3.47, 32.1], [3.49, 32.3], [3.505, 32.49], [3.52, 32.7], [3.55, 32.85], [3.57, 32.95], [3.59, 32.88], [3.61, 32.98], [3.63, 32.9], [3.65, 33.0], [3.67, 32.9], [3.69, 32.98], [3.71, 32.9], [3.73, 33.0], [3.75, 32.92], [3.77, 33.0], [3.79, 32.92], [3.81, 33.01], [3.83, 32.93], [3.85, 33.0], [3.876, 32.95],
  [3.877, 31.62], [3.90, 31.48], [3.95, 31.3], [4.0, 31.19], [4.07, 30.75], [4.13, 30.24], [4.137, 28.72], [4.14, 31.84], [4.16, 32.3], [4.18, 32.6], [4.197, 32.85], [4.22, 32.95], [4.24, 32.88], [4.26, 32.98], [4.28, 32.9], [4.30, 33.0], [4.32, 32.9], [4.34, 32.98], [4.36, 32.9], [4.38, 33.0], [4.40, 32.92], [4.42, 33.0], [4.44, 32.92], [4.46, 33.01], [4.48, 32.93], [4.50, 33.0], [4.52, 32.93], [4.54, 33.01], [4.558, 32.95],
  [4.559, 31.62], [4.60, 31.4], [4.64, 31.19], [4.70, 31.0], [4.74, 30.82], [4.78, 30.7], [4.815, 30.53], [4.822, 28.8], [4.825, 31.84], [4.84, 32.4], [4.87, 32.85], [4.89, 32.95], [4.91, 32.88], [4.93, 32.98], [4.95, 32.9], [4.97, 33.0], [4.99, 32.9], [5.01, 32.98], [5.03, 32.92], [5.05, 33.0], [5.07, 32.92], [5.09, 33.0], [5.11, 32.93], [5.13, 33.01], [5.15, 32.93], [5.17, 33.0], [5.19, 32.93], [5.21, 33.01], [5.23, 32.94], [5.244, 33.0],
  [5.245, 31.62], [5.29, 31.35], [5.33, 31.19], [5.38, 31.0], [5.43, 30.82], [5.47, 30.65], [5.505, 30.5], [5.509, 28.94], [5.512, 31.84], [5.53, 32.45], [5.56, 32.85], [5.58, 32.95], [5.60, 32.88], [5.62, 32.98], [5.64, 32.9], [5.66, 33.0], [5.68, 32.9], [5.70, 32.98], [5.72, 32.92], [5.74, 33.0], [5.76, 32.92], [5.78, 33.0], [5.80, 32.93], [5.82, 33.01], [5.84, 32.93], [5.86, 33.0], [5.88, 32.93], [5.90, 33.01], [5.93, 32.95],
  [5.931, 31.62], [5.97, 31.35], [6.02, 31.15], [6.07, 31.0], [6.12, 30.9], [6.16, 30.7], [6.19, 30.57], [6.191, 28.94], [6.194, 31.84], [6.21, 32.45], [6.24, 32.85], [6.26, 32.95], [6.28, 32.88], [6.30, 32.98], [6.32, 32.9], [6.34, 33.0], [6.36, 32.9], [6.38, 32.98], [6.40, 32.92], [6.42, 33.0], [6.44, 32.92], [6.46, 33.0], [6.48, 32.93], [6.50, 33.01], [6.52, 32.93], [6.54, 33.0], [6.56, 32.93], [6.58, 33.01], [6.60, 32.94], [6.617, 33.0],
  [6.618, 31.62], [6.66, 31.35], [6.716, 31.15], [6.76, 31.0], [6.81, 30.79], [6.85, 30.65], [6.875, 30.53], [6.878, 28.9], [6.881, 31.84], [6.90, 32.45], [6.93, 32.85], [6.95, 32.95], [6.97, 32.88], [6.99, 32.98], [7.01, 32.9], [7.03, 33.0], [7.05, 32.9], [7.07, 32.98], [7.09, 32.92], [7.11, 33.0], [7.13, 32.92], [7.15, 33.0], [7.17, 32.93], [7.19, 33.01], [7.21, 32.93], [7.23, 33.0], [7.25, 32.93], [7.27, 33.01], [7.29, 32.94], [7.30, 33.0],
  [7.301, 31.62], [7.35, 31.3], [7.41, 31.08], [7.45, 30.9], [7.50, 30.6], [7.55, 30.3], [7.564, 28.79], [7.567, 31.84], [7.58, 32.45], [7.61, 32.85], [7.63, 32.95], [7.65, 32.88], [7.67, 32.98], [7.69, 32.9], [7.71, 33.0], [7.73, 32.9], [7.75, 32.98], [7.77, 32.92], [7.79, 33.0], [7.81, 32.92], [7.83, 33.0], [7.85, 32.93], [7.87, 33.01], [7.89, 32.93], [7.91, 33.0], [7.93, 32.93], [7.95, 33.01], [7.97, 32.94], [7.99, 33.0],
  [7.991, 31.62], [8.05, 31.4], [8.1, 31.22], [8.15, 31.0], [8.2, 30.82], [8.24, 30.57], [8.243, 29.5], [8.246, 31.6], [8.26, 32.6], [8.275, 33.0], [8.29, 32.92], [8.31, 32.8], [8.33, 32.75], [8.35, 32.56], [8.37, 32.3], [8.40, 31.84], [8.42, 31.2], [8.43, 31.6], [8.445, 31.0], [8.455, 30.55], [8.458, 32.6], [8.47, 32.9], [8.49, 32.98], [8.51, 32.9], [8.53, 33.0], [8.55, 32.92], [8.57, 33.01], [8.59, 32.92], [8.61, 33.0], [8.63, 32.93], [8.65, 33.01], [8.676, 32.95],
  [8.677, 31.84], [8.70, 31.7], [8.74, 31.55], [8.80, 31.38], [8.85, 31.3], [8.94, 31.11], [9.00, 30.95], [9.05, 30.85], [9.10, 30.75], [9.15, 30.7], [9.19, 30.6], [9.22, 30.45], [9.25, 30.4], [9.28, 30.3], [9.33, 30.24], [9.36, 30.1], [9.40, 30.05], [9.43, 29.95], [9.46, 29.9], [9.48, 29.6], [9.49, 29.88], [9.51, 29.8], [9.53, 29.75], [9.54, 29.45], [9.55, 29.8], [9.57, 29.7], [9.59, 29.4], [9.60, 29.65], [9.62, 29.62], [9.63, 29.3], [9.64, 29.6], [9.66, 29.5], [9.68, 29.3], [9.70, 29.4], [9.71, 29.0], [9.72, 28.72], [9.73, 29.0], [9.75, 29.6], [9.78, 30.24], [9.80, 30.9], [9.83, 31.84], [9.85, 32.3], [9.87, 32.64], [9.875, 32.75], [9.90, 32.72], [9.92, 32.78], [9.94, 32.7], [9.96, 32.77], [9.98, 32.72], [10.00, 32.78], [10.02, 32.73], [10.04, 32.78],
  [10.05, 31.11], [10.075, 30.75], [10.1, 30.39], [10.15, 29.99], [10.18, 29.9], [10.2, 29.85], [10.22, 29.75], [10.25, 29.66], [10.27, 29.62], [10.29, 29.59], [10.291, 32.56], [10.31, 32.6], [10.33, 32.58], [10.35, 32.64], [10.38, 32.62], [10.41, 32.68], [10.44, 32.66], [10.47, 32.7], [10.50, 32.68], [10.53, 32.74], [10.56, 32.72], [10.60, 32.78], [10.64, 32.76], [10.68, 32.82], [10.72, 32.85],
  [10.73, 31.6], [10.76, 31.2], [10.79, 30.9], [10.83, 30.6], [10.865, 30.4], [10.875, 30.35],
];

// (c) battery depth of discharge [%]
const dod: Pt[] = [
  [0, 42.8], [0.03, 45.5], [0.06, 42], [0.09, 39.3], [0.13, 35], [0.166, 31.5], [0.2, 28], [0.24, 24.8], [0.28, 21], [0.317, 17.5], [0.335, 16], [0.347, 15.6], [0.37, 16.1], [0.41, 18.2], [0.449, 20.4], [0.5, 23.3], [0.543, 25.7], [0.58, 28.1], [0.619, 30.5], [0.66, 34], [0.69, 37.5], [0.713, 40.7],
  [0.74, 37], [0.77, 33.4], [0.81, 29.5], [0.845, 26.6], [0.88, 23.3], [0.92, 20.4], [0.96, 18], [0.995, 16.5], [1.02, 15], [1.033, 14.3], [1.05, 14.3], [1.07, 15], [1.10, 17], [1.146, 19.4], [1.2, 23.2], [1.26, 27.6], [1.32, 32.5], [1.39, 39.4],
  [1.42, 36.5], [1.448, 33.4], [1.49, 28.8], [1.52, 25.7], [1.56, 22.3], [1.6, 19.4], [1.64, 17.2], [1.674, 15.6], [1.71, 14.1], [1.73, 14.2], [1.75, 15], [1.79, 17.5], [1.825, 20.4], [1.88, 24.5], [1.94, 29.5], [2.00, 34.5], [2.04, 37.8], [2.078, 41.1],
  [2.10, 38], [2.13, 34.4], [2.16, 30.5], [2.19, 27.6], [2.24, 26.2], [2.28, 24.8], [2.345, 22.7], [2.39, 20.5], [2.43, 18.5], [2.46, 16.3], [2.49, 14.5], [2.53, 17.2], [2.58, 20.8], [2.63, 23.6], [2.67, 26.2], [2.72, 29], [2.76, 31.7],
  [2.79, 30.8], [2.825, 29.1], [2.87, 26], [2.92, 22.8], [2.97, 19.3], [3.03, 16.1], [3.09, 13.5], [3.145, 11.3], [3.18, 9.4], [3.25, 13.8], [3.32, 18.2], [3.39, 22.5], [3.45, 26.5],
  [3.50, 23], [3.55, 19.5], [3.6, 16.5], [3.67, 11.7], [3.72, 9.5], [3.78, 8], [3.86, 6.2], [3.93, 10.2], [4.0, 14.2], [4.07, 18.5], [4.13, 23.5],
  [4.18, 19.5], [4.23, 15.8], [4.29, 12.5], [4.35, 9.8], [4.42, 7.6], [4.49, 6], [4.55, 4.7], [4.62, 8.8], [4.68, 12.5], [4.75, 16.8], [4.815, 21.7],
  [4.86, 18], [4.91, 14.5], [4.97, 11.3], [5.04, 8.5], [5.11, 6.3], [5.18, 4.9], [5.24, 3.85], [5.31, 8], [5.37, 11.8], [5.44, 16.3], [5.5, 20.9],
  [5.55, 17.3], [5.6, 14], [5.66, 10.8], [5.72, 8.2], [5.79, 6], [5.86, 4.4], [5.92, 3.3], [5.99, 7.5], [6.05, 11.2], [6.12, 15.6], [6.18, 20],
  [6.23, 16.5], [6.28, 13.4], [6.34, 10.3], [6.40, 7.8], [6.47, 5.7], [6.54, 4.2], [6.6, 3.1], [6.67, 7.3], [6.73, 11], [6.8, 15.2], [6.87, 19.7],
  [6.92, 16.3], [6.97, 13.2], [7.03, 10.2], [7.09, 7.7], [7.16, 5.5], [7.22, 4], [7.285, 2.9], [7.35, 7.5], [7.42, 12.5], [7.49, 17.8], [7.55, 22.6],
  [7.6, 18.5], [7.65, 15.4], [7.71, 12.3], [7.77, 10], [7.82, 8.3], [7.9, 5.8], [7.98, 3.75], [8.05, 8], [8.12, 12.3], [8.18, 16], [8.23, 19.2],
  [8.27, 16.5], [8.31, 14.2], [8.35, 13.7], [8.39, 14.5], [8.43, 15.9], [8.47, 13.8], [8.51, 12], [8.54, 10.8], [8.6, 8.6], [8.65, 6.7],
  [8.74, 10.8], [8.84, 15.1], [8.93, 20], [9.03, 24.8], [9.12, 29.5], [9.22, 34.4], [9.31, 39], [9.40, 43.6], [9.50, 48.2], [9.59, 52.8], [9.64, 55.7], [9.69, 59], [9.72, 61], [9.75, 61.8], [9.78, 61.3], [9.80, 59], [9.83, 53.7], [9.87, 47.5], [9.93, 41.2], [9.98, 36.5], [10.02, 33.2],
  [10.08, 37.7], [10.14, 42.1], [10.21, 47], [10.28, 52], [10.31, 48], [10.35, 44.1], [10.40, 37.5], [10.46, 31.5], [10.51, 26.5], [10.57, 21.9], [10.63, 18], [10.70, 14.4], [10.76, 19], [10.81, 22.8], [10.855, 26.9],
];

type Series = { name: string; color: string; data: Pt[] };

const toRows = (a: Pt[]) => a.map(([t, v]) => ({ t, v }));

const tickStyle = { fontSize: 10, fill: '#262626', fontFamily: SANS };

function Panel(props: {
  top: number; plotTop: number; plotBottom: number; domain: [number, number]; ticks: number[];
  ylabel: string; series: Series[]; width: number;
}) {
  const { top, plotTop, plotBottom, domain, ticks, ylabel, series, width } = props;
  const H = 300;
  const margin = { top: plotTop - top, right: 4, left: 0, bottom: H - (plotBottom - top) - 30 };
  return (
    <div style={{ position: 'absolute', left: 0, top }}>
      <LineChart width={1024} height={H} margin={margin}>
        <CartesianGrid stroke="#dedede" strokeWidth={1} />
        <XAxis dataKey="t" type="number" domain={[0, 10.95]} ticks={xTicks} allowDataOverflow
          height={30} tickSize={-9} tickMargin={17} tick={tickStyle}
          axisLine={{ stroke: '#262626' }} tickLine={{ stroke: '#262626' }}>
          <Label content={({ viewBox }: any) => (
            <text x={viewBox.x + viewBox.width / 2} y={viewBox.y + 28} textAnchor="middle"
              fontSize={10} fontFamily={SANS} fill="#262626">time(sec)</text>
          )} />
        </XAxis>
        <YAxis type="number" domain={domain} ticks={ticks} allowDataOverflow width={52}
          tickSize={-9} tickMargin={15} tick={tickStyle}
          axisLine={{ stroke: '#262626' }} tickLine={{ stroke: '#262626' }}>
          <Label content={({ viewBox }: any) => {
            const cx = 17;
            const cy = viewBox.y + viewBox.height / 2;
            return (
              <text x={cx} y={cy} transform={`rotate(-90, ${cx}, ${cy})`} textAnchor="middle"
                fontSize={10} fontFamily={SANS} fill="#262626">{ylabel}</text>
            );
          }} />
        </YAxis>
        {series.map((s) => (
          <Line key={s.name} data={toRows(s.data)} dataKey="v" name={s.name} type="linear"
            stroke={s.color} strokeWidth={width} dot={false} activeDot={false} isAnimationActive={false} />
        ))}
        {eclipses.map(([x1, x2], i) => (
          <ReferenceArea key={i} x1={x1} x2={x2} fill="#9e9e9e" fillOpacity={0.4} stroke="none"
            ifOverflow="hidden" zIndex={1000} />
        ))}
      </LineChart>
    </div>
  );
}

function LegendBox(props: { left: number; top: number; width: number; items: Series[] }) {
  const { left, top, width, items } = props;
  return (
    <div style={{
      position: 'absolute', left, top, width, boxSizing: 'border-box', border: '1px solid #262626',
      background: '#fff', padding: '1px 0 1px 3px', fontFamily: SANS, fontSize: 9.3, color: '#000',
    }}>
      {items.map((s) => (
        <div key={s.name} style={{ display: 'flex', alignItems: 'center', height: 12.5 }}>
          <div style={{ width: 30, height: 0, borderTop: `1.5px solid ${s.color}`, marginRight: 4 }} />
          <span style={{ whiteSpace: 'nowrap' }}>{s.name}</span>
        </div>
      ))}
    </div>
  );
}

function Exp(props: { top: number }) {
  return (
    <div style={{ position: 'absolute', left: 999, top: props.top, fontFamily: SANS, fontSize: 10, color: '#262626', lineHeight: '10px' }}>
      ×10<sup style={{ fontSize: 8, verticalAlign: 5 }}>4</sup>
    </div>
  );
}

function Caption(props: { top: number; text: string }) {
  return (
    <div style={{
      position: 'absolute', left: 2, top: props.top, width: 1024, textAlign: 'center',
      fontFamily: '"Liberation Serif", "Times New Roman", serif', fontSize: 26, lineHeight: '26px', color: '#000',
    }}>{props.text}</div>
  );
}

export default function App() {
  const sIn = { name: 'SAR input power', color: BLUE, data: sarIn };
  const sOut = { name: 'SAR output power', color: ORANGE, data: sarOut };
  const sCons = { name: 'Power Consumption', color: BLUE, data: consumption };
  const sBus = { name: 'Bus Voltage', color: BLUE, data: busV };
  const sBat = { name: 'Battery Voltage', color: ORANGE, data: batV };
  const sDod = { name: 'Battery DoD', color: BLUE, data: dod };
  return (
    <div style={{ position: 'absolute', left: 0, top: 0, width: 1024, height: 1226, background: '#fff' }}>
      <Panel top={0} plotTop={6} plotBottom={236} domain={[-45, 1068]} ticks={[0, 200, 400, 600, 800, 1000]}
        ylabel="[W]" series={[sIn, sOut]} width={1.3} />
      <Panel top={280} plotTop={294} plotBottom={525} domain={[90.4, 911.7]} ticks={[100, 200, 300, 400, 500, 600, 700, 800, 900]}
        ylabel="[W]" series={[sCons]} width={1.3} />
      <Panel top={600} plotTop={613} plotBottom={844} domain={[28.09, 33.124]} ticks={[28.5, 29, 29.5, 30, 30.5, 31, 31.5, 32, 32.5, 33]}
        ylabel="[V]" series={[sBus, sBat]} width={1.3} />
      <Panel top={920} plotTop={932} plotBottom={1162} domain={[0, 66.7]} ticks={[0, 10, 20, 30, 40, 50, 60]}
        ylabel="[%]" series={[sDod]} width={1} />
      <LegendBox left={899} top={14} width={117} items={[sIn, sOut]} />
      <LegendBox left={891} top={303} width={125} items={[sCons]} />
      <LegendBox left={793} top={810} width={104} items={[sBus, sBat]} />
      <LegendBox left={923} top={939} width={91} items={[sDod]} />
      <Exp top={258} />
      <Exp top={547} />
      <Exp top={866} />
      <Exp top={1184} />
      <Caption top={565} text="(a) Power Consumption" />
      <Caption top={883} text="(b) Bus Voltage" />
      <Caption top={1200} text="(c) Battery DoD (Estimated)" />
    </div>
  );
}
